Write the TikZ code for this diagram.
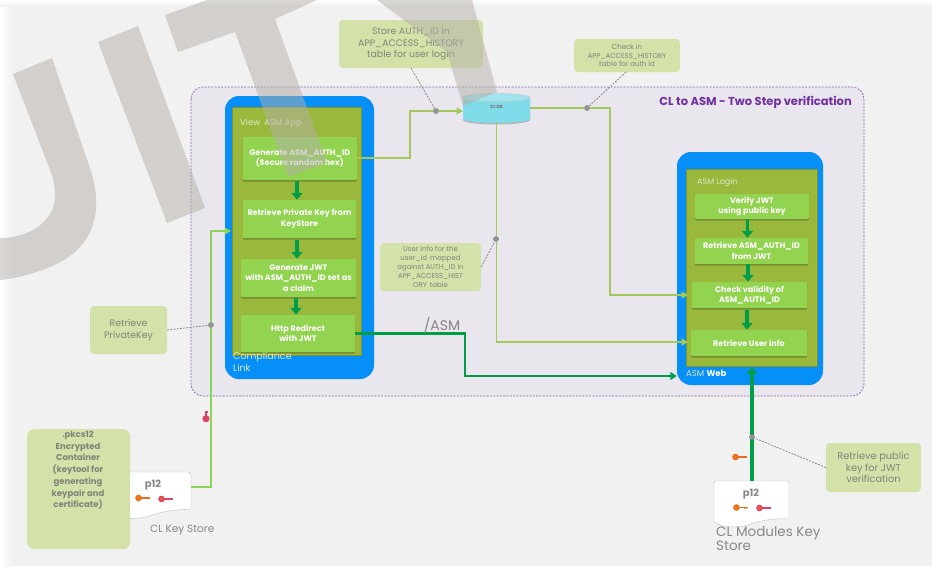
\documentclass[tikz,border=0pt]{standalone}
\usepackage{fontspec}
\setmainfont{Poppins}
\usetikzlibrary{arrows.meta,shadows,calc}
\definecolor{bgc}{RGB}{241,241,241}
\definecolor{panel}{RGB}{233,230,238}
\definecolor{dashp}{RGB}{140,105,170}
\definecolor{bluec}{RGB}{5,143,247}
\definecolor{olive}{RGB}{154,184,60}
\definecolor{boxg}{RGB}{146,212,80}
\definecolor{darkg}{RGB}{0,158,72}
\definecolor{lineg}{RGB}{165,200,90}
\definecolor{brightg}{RGB}{140,212,90}
\definecolor{note}{RGB}{211,226,168}
\definecolor{notetxt}{RGB}{130,132,122}
\definecolor{dbc}{RGB}{128,220,232}
\definecolor{wm}{RGB}{180,175,168}
\definecolor{titlep}{RGB}{112,48,160}
\definecolor{lightlab}{RGB}{222,232,205}
\definecolor{keyo}{RGB}{235,110,30}
\definecolor{keyp}{RGB}{220,65,105}
\definecolor{grayt}{RGB}{135,135,135}
\tikzset{
  x=1pt,y=-1pt,
  stepbox/.style={rectangle,fill=boxg,rounded corners=1pt,inner sep=0pt,align=center,text=white,font=\fontsize{8}{10.5}\selectfont\bfseries,
    drop shadow={shadow xshift=0pt,shadow yshift=-1.5pt,opacity=.25,fill=black}},
  notebox/.style={rectangle,fill=note,rounded corners=4pt,inner sep=0pt,align=center,text=notetxt},
  flow/.style={darkg,line width=3.6pt,-{Triangle[width=11pt,length=7pt]}},
  link/.style={lineg,line width=1.2pt,-{Triangle[width=7pt,length=6.5pt]}},
  route/.style={darkg,line width=2.4pt,-{Triangle[width=8pt,length=6.5pt]}},
  lead/.style={gray!95,line width=.75pt,dash pattern=on 2pt off 1.2pt},
  dot/.style={circle,fill=gray!85,inner sep=0pt,minimum size=5.5pt},
  lab/.style={inner sep=0pt,anchor=west,align=left},
  pics/keyicon/.style={code={
    \draw[#1,line width=1.6pt] (3,0)--(14,0);
    \draw[#1,line width=1pt] (10,0)--(10,1.4) (12.5,0)--(12.5,1.4);
    \draw[#1,line width=1.3pt,fill=orange!45!#1] (2.5,0) circle (2.6);
  }},
  pics/keyfat/.style={code={
    \draw[#1,line width=2.4pt] (3,0)--(11,0);
    \draw[#1,line width=2.4pt] (9.5,-1.5)--(9.5,1.5);
    \fill[#1] (2.8,0) circle (3.6);
  }},
}
\begin{document}
\begin{tikzpicture}
\useasboundingbox (0,0) rectangle (932,566);
% background
\fill[bgc] (0,0) rectangle (932,566);
\shade[left color=white,right color=bgc,shading angle=90] (0,0) rectangle (13,566);
\shade[top color=white,bottom color=bgc] (0,0) rectangle (932,6);
% panel
\draw[dashp,line width=.7pt,dash pattern=on 2pt off 1.3pt,fill=panel,rounded corners=12pt] (191,87) rectangle (864,396);
\node[lab,anchor=east,text=titlep,font=\fontsize{11.5}{13}\selectfont\bfseries] (title) at (852,102) {CL to ASM - Two Step verification};
% left app
\node[rectangle,fill=bluec,rounded corners=14pt,minimum width=149pt,minimum height=283pt,inner sep=0pt] (clouter) at (299.5,237.5) {};
\node[rectangle,fill=olive,draw=olive!80!black,line width=.5pt,minimum width=129pt,minimum height=248pt,inner sep=0pt] (clinner) at (296.5,231) {};
\node[lab,text=lightlab,font=\fontsize{8.5}{10}\selectfont] (viewlab) at (240,123) {View\hspace{4pt}ASM App};
\node[stepbox,minimum width=114.5pt,minimum height=43pt] (gen) at (299.75,158.5) {Generate ASM\_AUTH\_ID\\(Secure random hex)};
\node[stepbox,minimum width=113pt,minimum height=38pt] (ret) at (299.5,219) {Retrieve Private Key from\\KeyStore};
\node[stepbox,minimum width=115pt,minimum height=38pt] (jwt) at (298.5,278) {Generate JWT\\with ASM\_AUTH\_ID set as\\a claim};
\node[stepbox,minimum width=114pt,minimum height=37pt] (http) at (298,333.5) {Http Redirect\\with JWT};
\node[lab,text=lightlab,font=\fontsize{9.5}{11.5}\selectfont] (cllab) at (233,362) {Compliance\\Link};
\draw[flow] ($(gen.south)+(-2.75,1)$) -- ($(ret.north)+(-2.5,0)$);
\draw[flow] ($(ret.south)+(-2.5,2)$) -- ($(jwt.north)+(-1.5,0)$);
\draw[flow] ($(jwt.south)+(-2.5,1)$) -- ($(http.north)+(-2,0)$);
% right app
\node[rectangle,fill=bluec,rounded corners=14pt,minimum width=146pt,minimum height=233pt,inner sep=0pt] (webouter) at (750,268.5) {};
\node[rectangle,fill=olive,draw=olive!80!black,line width=.5pt,minimum width=131pt,minimum height=197pt,inner sep=0pt] (webinner) at (751.5,267.5) {};
\node[lab,text=lightlab,font=\fontsize{8}{10}\selectfont] (loginlab) at (697,183) {ASM Login};
\node[stepbox,minimum width=114pt,minimum height=25pt] (ver) at (752,206.5) {Verify JWT\\using public key};
\node[stepbox,minimum width=113pt,minimum height=26pt] (rid) at (751.5,251) {Retrieve ASM\_AUTH\_ID\\from JWT};
\node[stepbox,minimum width=115pt,minimum height=26pt] (chk) at (749.5,295) {Check validity of\\ASM\_AUTH\_ID};
\node[stepbox,minimum width=116pt,minimum height=26pt] (usr) at (749,343) {Retrieve User info};
\node[lab,text=white,font=\fontsize{8.5}{10}\selectfont] (weblab) at (686,373) {\textcolor{lightlab}{ASM} \textbf{Web}};
\draw[flow] ($(ver.south)+(-4.5,0)$) -- ($(rid.north)+(-4,0)$);
\draw[flow] ($(rid.south)+(-3.5,0)$) -- ($(chk.north)+(-1.5,0)$);
\draw[flow] ($(chk.south)+(-2.5,2)$) -- ($(usr.north)+(-2,0)$);
% database
\fill[black,opacity=.22] (463,100) -- (463,120) arc[start angle=180,end angle=360,x radius=33.5pt,y radius=4.5pt] -- (530,100) -- cycle;
\fill[dbc] (463,97.5) -- (463,119) arc[start angle=180,end angle=360,x radius=33.5pt,y radius=4pt] -- (530,97.5) arc[start angle=0,end angle=180,x radius=33.5pt,y radius=4pt];
\fill[dbc!75!white,draw=gray!45,line width=.4pt] (496.5,97.5) ellipse[x radius=33.5pt,y radius=4pt];
\node[inner sep=0pt,minimum width=67pt,minimum height=30pt,font=\fontsize{4.5}{5}\selectfont\bfseries,text=gray!90!black,yshift=1.5pt] (db) at (496.5,108) {CL DB};
% notes
\node[notebox,minimum width=144pt,minimum height=48pt,font=\fontsize{9.4}{11.6}\selectfont] (nstore) at (411,44) {Store AUTH\_ID in\\APP\_ACCESS\_HISTORY\\table for user login};
\node[notebox,minimum width=106pt,minimum height=33pt,font=\fontsize{7}{8.5}\selectfont] (ncheck) at (627,55.5) {Check in\\APP\_ACCESS\_HISTORY\\table for auth id};
\node[notebox,minimum width=101pt,minimum height=48pt,font=\fontsize{7}{9}\selectfont] (nuser) at (430.5,267) {User info for the\\user\_id\hspace{3pt}mapped\\against AUTH\_ID in\\APP\_ACCESS\_HIST\\ORY\hspace{3pt}table};
\node[notebox,minimum width=77pt,minimum height=48pt,font=\fontsize{9.4}{11.5}\selectfont] (npriv) at (128.5,330) {Retrieve\\PrivateKey};
\node[notebox,minimum width=95pt,minimum height=49pt,font=\fontsize{9.8}{11.7}\selectfont] (npub) at (873.5,467.5) {Retrieve public\\key for JWT\\verification};
% key stores
\draw[gray!50,line width=.4pt,fill=white] (120,472) -- (188,472) .. controls (190,472) and (191,473) .. (191,475) -- (191,509) .. controls (170,510) and (160,512) .. (150,516) .. controls (145,518) and (130,519) .. (120,518) -- cycle;
\coordinate (ksleft) at (191,487);
\draw[gray!50,line width=.4pt,fill=white] (716,481) -- (787,481) .. controls (788.5,481) and (789,482) .. (789,483) -- (789,519) .. controls (770,518) and (760,521) .. (748,525) .. controls (738,528) and (722,528) .. (714,522) -- (714,483) .. controls (714,482) and (715,481) .. (716,481) -- cycle;
\coordinate (ksright) at (752,481);
\node[inner sep=0pt,text=grayt,font=\fontsize{10}{11}\selectfont\bfseries] (p12a) at (153,485) {p12};
\node[inner sep=0pt,text=grayt,font=\fontsize{10}{11}\selectfont\bfseries] (p12b) at (751,494) {p12};
\pic at (136,498) {keyicon=keyo};
\pic at (159,499) {keyicon=keyp};
\pic at (734,507.5) {keyicon=keyo};
\pic at (757,508) {keyicon=keyp};
\pic at (733,457) {keyicon=keyo};
\pic[rotate=90] at (206,421.5) {keyfat=keyp};
\node[notebox,rounded corners=7pt,minimum width=103pt,minimum height=120pt,anchor=north west] (npk) at (27,429) {};
\node[anchor=north,inner sep=0pt,align=center,text=notetxt,font=\fontsize{8.5}{11.7}\selectfont\bfseries] (npktxt) at (78,431) {.pkcs12\\Encrypted\\Container\\(keytool for\\generating\\keypair and\\certificate)};
\node[lab,text=grayt,font=\fontsize{10.5}{12}\selectfont] (kslab) at (150,530) {CL Key Store};
\node[lab,text=grayt,font=\fontsize{13.5}{13}\selectfont] (msl) at (716,539) {CL Modules Key\\Store};
% connectors
\node[dot] (d1) at (436,111) {};
\node[dot] (d2) at (587,108) {};
\node[dot] (d3) at (496,239) {};
\node[dot] (d4) at (211,325) {};
\node[dot] (d5) at (752,437) {};
\coordinate (genout) at (357,158);
\coordinate (dbin) at (463,111);
\coordinate (dbout) at (530,108);
\coordinate (chkin) at (688,295);
\coordinate (usrin) at (688,342);
\coordinate (dbbot) at (496.5,122);
\coordinate (clin) at (231,231);
\draw[link] (genout) -- (410,158) -- (410,111) -- (dbin);
\draw[link] (dbout) -- (610,108) -- (610,295) -- (chkin);
\draw[link] (dbbot) -- (usrin -| dbbot) -- (usrin);
\draw[link,brightg] (ksleft) -- (211,487) -- (211,231) -- (clin);
\draw[route] (http.east) -- (465,333.5) -- (465,376) -- (webouter.west |- 0,376);
\draw[route,line width=3.2pt,-{Triangle[width=10pt,length=7pt]}] (ksright) -- (752,367);
\node[inner sep=0pt,text=grayt,font=\fontsize{14}{15}\selectfont] (asmlab) at (442,325) {/ASM};
\node[dot] at (d1) {};\node[dot] at (d2) {};\node[dot] at (d3) {};\node[dot] at (d4) {};\node[dot] at (d5) {};
\draw[lead] (411,68) -- (d1);
\draw[lead] (626,72) -- (d2);
\draw[lead] (nuser.east) -- (d3);
\draw[lead] (npriv.east) -- (d4);
\draw[lead] (npub.west) -- (d5);
% watermark
\begin{scope}[opacity=.5]
\fill[wm] (13,74) -- (52,58) -- (90,168) .. controls (104,210) and (96,248) .. (50,267) .. controls (30,275) and (12,279) .. (0,280) -- (0,238) .. controls (25,238) and (45,226) .. (52,210) .. controls (56,200) and (56,190) .. (52,175) -- cycle;
\fill[wm] (98,42) -- (138,26) -- (205,208) -- (167,223) -- cycle;
\fill[wm] (165,15) -- (207,0) -- (317,0) -- (275,19) -- (327,163) -- (288,177) -- (235,32) -- (178,52) -- cycle;
\fill[wm] (377,0) -- (472,0) -- (497,92) -- (463,106) -- (447,52) -- cycle;
\end{scope}
\end{tikzpicture}
\end{document}
